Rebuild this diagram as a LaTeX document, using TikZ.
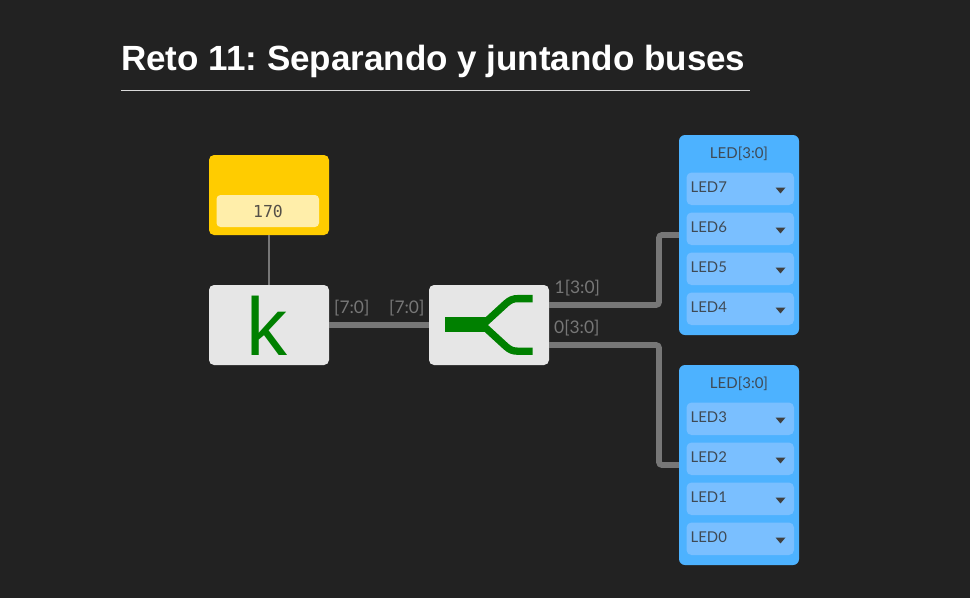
\documentclass[tikz,border=0pt]{standalone}
\usepackage{fontspec}
\setmainfont{Lato}
\newfontfamily\titlefont{Liberation Sans}
\newfontfamily\valfont{DejaVu Sans Mono}
\definecolor{bgc}{HTML}{222222}
\definecolor{wirec}{HTML}{777777}
\definecolor{yel}{HTML}{FFCC00}
\definecolor{yelin}{HTML}{FFEEAA}
\definecolor{boxc}{HTML}{E6E6E6}
\definecolor{ledc}{HTML}{4DB2FF}
\definecolor{rowc}{HTML}{7ABFFF}
\definecolor{inkc}{HTML}{3F4A55}
\definecolor{valc}{HTML}{555048}
\definecolor{tric}{HTML}{404040}
\definecolor{iconc}{HTML}{008000}
\tikzset{
  block/.style={rectangle,rounded corners=5pt,minimum width=120pt,minimum height=80pt,inner sep=0pt,fill=boxc},
  ledbox/.style={rectangle,rounded corners=6pt,minimum width=120pt,minimum height=200pt,inner sep=0pt,fill=ledc},
  ledrow/.style={rectangle,rounded corners=5pt,minimum width=107.5pt,minimum height=32.5pt,inner sep=0pt,fill=rowc},
  rowtxt/.style={anchor=base west,inner sep=0pt,text=inkc,font=\fontsize{14.9}{14.9}\selectfont},
  headtxt/.style={anchor=base,inner sep=0pt,text=inkc,font=\fontsize{15}{15}\selectfont},
  portlbl/.style={anchor=base west,inner sep=0pt,text=wirec,font=\fontsize{17.4}{17.4}\selectfont},
  bus/.style={draw=wirec,line width=5.8pt,rounded corners=3pt},
  wire/.style={draw=wirec,line width=2.6pt},
  icon/.style={draw=iconc,fill=none,line cap=butt},
  tri/.style={fill=tric,draw=none}
}
\newcommand{\ledrows}[3]{% box prefix, top y, first index
  \foreach \i/\n in {#3}{
    \pgfmathsetmacro{\yy}{#2+\i*40}
    \node[ledrow] (#1row\n) at (740.25,\yy) {};
    \node[rowtxt] (#1lbl\n) at (690.5,\yy+3.8) {LED\n};
    \fill[tri] (775.5,\yy-1.2) -- (785.5,\yy-1.2) -- (780.5,\yy+4.7) -- cycle;
  }
}
\begin{document}
\begin{tikzpicture}[x=1pt,y=-1pt]
\frenchspacing
\useasboundingbox (0,0) rectangle (970,598);
\fill[bgc] (0,0) rectangle (970,598);
% title
\node[anchor=base west,inner sep=0pt,text=white,font=\titlefont\bfseries\fontsize{35}{35}\selectfont] (title) at (121,70) {Reto 11: Separando y juntando buses};
\coordinate (ruleL) at (121,90.5);
\coordinate (ruleR) at (750,90.5);
\draw[draw=white!85!black,line width=1.1pt] (ruleL) -- (ruleR);
% blocks
\node[block,fill=yel] (const) at (269,195) {};
\node[rectangle,rounded corners=4pt,minimum width=102.5pt,minimum height=32pt,inner sep=0pt,fill=yelin] (val) at (267.75,211) {};
\node[anchor=base,inner sep=0pt,text=valc,font=\valfont\fontsize{16.5}{16.5}\selectfont] (valtxt) at (268,217) {170};
\node[block] (k) at (269,325) {};
\node[block] (split) at (489,325) {};
\node[ledbox] (ledA) at (739,235) {};
\node[ledbox] (ledB) at (739,465) {};
% wires
\coordinate (sa) at (549,305);
\coordinate (sb) at (549,345);
\draw[wire] (const.south) -- (k.north);
\draw[bus] (k.east) -- (split.west);
\draw[bus] (sa) -- (659,305) -- (659,235) -- (ledA.west);
\draw[bus] (sb) -- (659,345) -- (659,465) -- (ledB.west);
% icons
\node[anchor=base west,inner sep=0pt,text=iconc,font=\titlefont\fontsize{82}{82}\selectfont] (ktxt) at (246.6,355) {k};
\draw[icon,line width=15pt] (445,324.8) -- (486,324.8);
\draw[icon,line width=7.3pt] (482,325.5) -- (506,303.5) .. controls (510,300) and (513,298.6) .. (518,298.6) -- (532.7,298.6);
\draw[icon,line width=7.3pt] (482,324.5) -- (506,346.5) .. controls (510,350) and (513,351.2) .. (518,351.2) -- (532.7,351.2);
% port labels
\node[portlbl] (p1) at (334,313) {[7:0]};
\node[portlbl] (p2) at (389,313) {[7:0]};
\node[portlbl] (p3) at (554.5,293) {1[3:0]};
\node[portlbl] (p4) at (554,333) {0[3:0]};
% LED boxes
\node[headtxt] (hA) at (739,158.5) {LED[3:0]};
\node[headtxt] (hB) at (739,388.5) {LED[3:0]};
\ledrows{a}{188.75}{0/7,1/6,2/5,3/4}
\ledrows{b}{418.75}{0/3,1/2,2/1,3/0}
\end{tikzpicture}
\end{document}
